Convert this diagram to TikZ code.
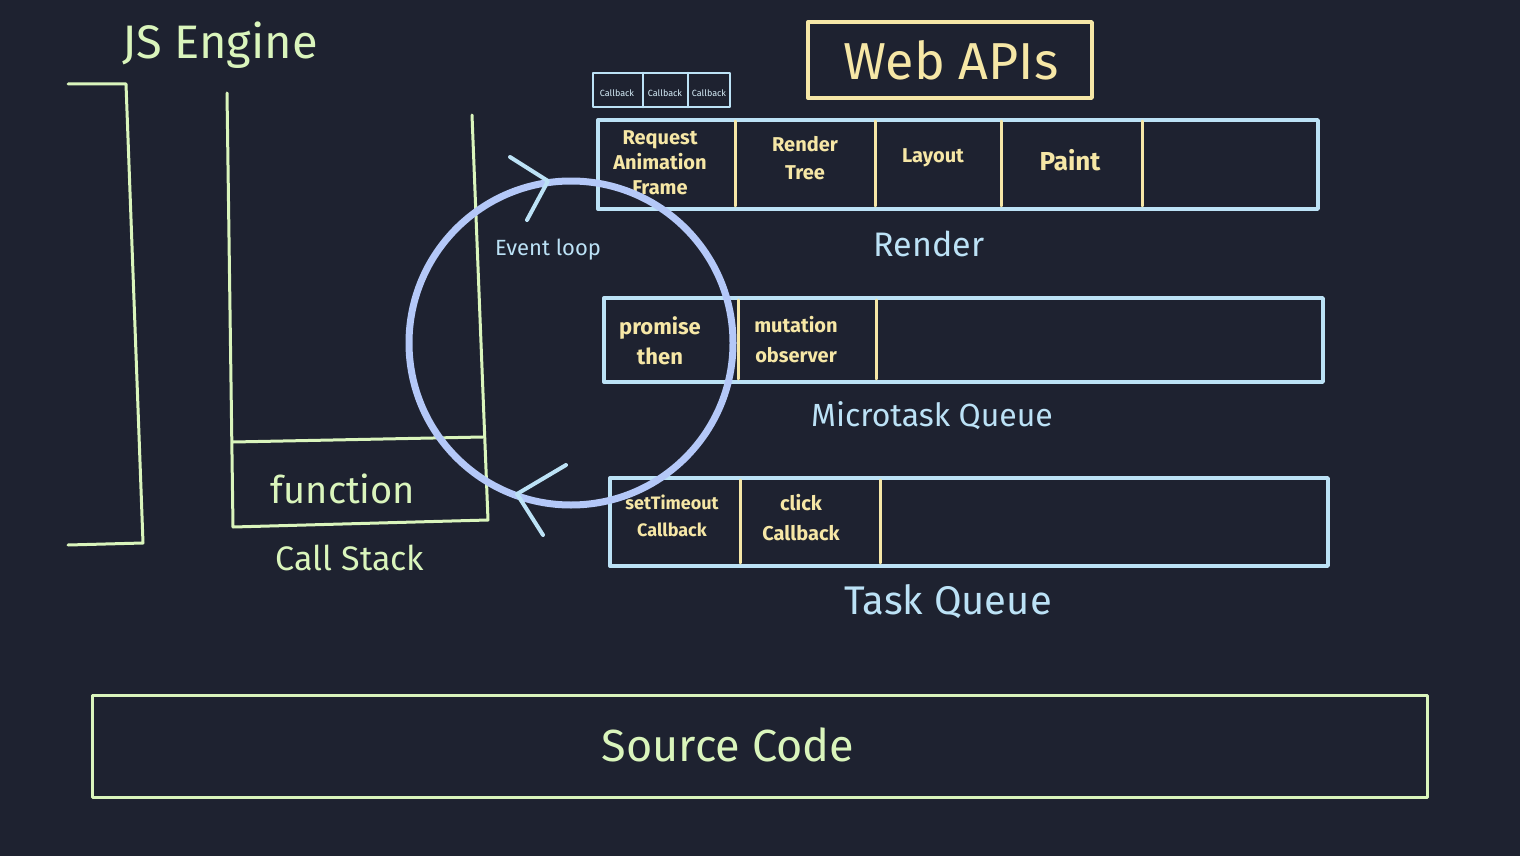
\documentclass[tikz,border=0pt]{standalone}
\usepackage{fontspec}
\setmainfont{Fira Sans}
\definecolor{boardbg}{HTML}{1E2230}
\definecolor{chalkgreen}{HTML}{DAF5BC}
\definecolor{chalkblue}{HTML}{BCE2F6}
\definecolor{chalkyellow}{HTML}{F6E7A6}
\definecolor{ringblue}{HTML}{B4C8F8}
\newcommand{\fs}[1]{\fontsize{#1}{1.2\dimexpr#1pt\relax}\selectfont}
\tikzset{every picture/.style={line width=0.75pt}}

\begin{document}
\begin{tikzpicture}[x=0.5pt,y=-0.5pt,line cap=round,line join=round,
  greenline/.style={draw=chalkgreen,line width=1.5pt},
  blueline/.style={draw=chalkblue,line width=1.7pt},
  divider/.style={draw=chalkyellow,line width=1.5pt},
  greentext/.style={text=chalkgreen,inner sep=0pt},
  bluetext/.style={text=chalkblue,inner sep=0pt},
  celltext/.style={text=chalkyellow,inner sep=0pt,align=center,font=\bfseries\fs{10}},
  tinytext/.style={text=chalkblue!60!white,inner sep=0pt,font=\fs{4.5}},
  ring/.style={circle,draw=ringblue,line width=3.5pt,inner sep=0pt,minimum size=162pt},
  ringhead/.style={draw=chalkblue,line width=2pt}]
  \fill[boardbg] (0,0) rectangle (1520,856);
  \useasboundingbox (0,0) rectangle (1520,856);

  % JS engine and call stack
  \node[greentext,font=\fs{23.5}] (engine) at (220,45) {JS Engine};
  \draw[greenline] (68,84) -- (126,84) -- (143,543) -- (68,545);
  \draw[greenline] (227,93) -- (233,527) -- (488,520) -- (472,115);
  \draw[greenline] (233,442) -- (483,437);
  \node[greentext,font=\fs{19}] (func) at (343,489) {function};
  \node[greentext,font=\fs{17}] (stacklabel) at (350,558) {Call Stack};

  % web apis
  \draw[draw=chalkyellow,line width=1.7pt] (808,22) rectangle (1092,98);
  \node[text=chalkyellow,inner sep=0pt,font=\fs{26}] (webapis) at (951,60) {Web APIs};
  \draw[blueline,line width=1.3pt] (593,73) rectangle (730,107);
  \draw[blueline,line width=1.3pt] (643,73) -- (643,107);
  \draw[blueline,line width=1.3pt] (688,73) -- (688,107);
  \node[tinytext] (cb1) at (617,93) {Callback};
  \node[tinytext] (cb2) at (665,93) {Callback};
  \node[tinytext] (cb3) at (709,93) {Callback};

  % render steps
  \draw[blueline] (598,120) rectangle (1318,209);
  \foreach \xd in {735,875,1001,1142}
    \draw[divider] (\xd,121) -- (\xd,206);
  \node[celltext] (raf) at (660,163) {Request\\[0.5pt]Animation\\[0.5pt]Frame};
  \node[celltext] (rtree) at (805,158) {Render\\[2pt]Tree};
  \node[celltext] (layout) at (933,158) {Layout};
  \node[celltext,font=\bfseries\fs{13}] (paint) at (1070,160) {Paint};
  \node[bluetext,font=\fs{17}] (renderlabel) at (929,244) {Render};

  % microtask queue
  \draw[blueline] (604,298) rectangle (1323,382);
  \foreach \xd in {738,876}
    \draw[divider] (\xd,300) -- (\xd,379);
  \node[celltext,font=\bfseries\fs{11}] (promise) at (660,341) {promise\\[2pt]then};
  \node[celltext] (mutation) at (796,340) {mutation\\[3pt]observer};
  \node[bluetext,font=\fs{16}] (microlabel) at (932,416) {Microtask Queue};

  % task queue
  \draw[blueline] (610,478) rectangle (1328,566);
  \foreach \xd in {740,880}
    \draw[divider] (\xd,480) -- (\xd,563);
  \node[celltext,font=\bfseries\fs{9}] (timeout) at (672,516) {setTimeout\\[3pt]Callback};
  \node[celltext] (click) at (801,518) {click\\[3pt]Callback};
  \node[bluetext,font=\fs{20}] (tasklabel) at (948,602) {Task Queue};

  % event loop
  \node[ring] (loop) at (571,343) {};
  \coordinate (headtop) at (548,181);
  \coordinate (headlow) at (517,494);
  \draw[ringhead] (510,157) -- (headtop) -- (527,220);
  \draw[ringhead] (566,465) -- (headlow) -- (543,535);
  \node[bluetext,font=\fs{11}] (looplabel) at (548,250) {Event loop};

  % source code
  \draw[greenline] (92,695) rectangle (1427,797);
  \node[greentext,font=\fs{22.5}] (source) at (728,745) {Source Code};
\end{tikzpicture}
\end{document}
